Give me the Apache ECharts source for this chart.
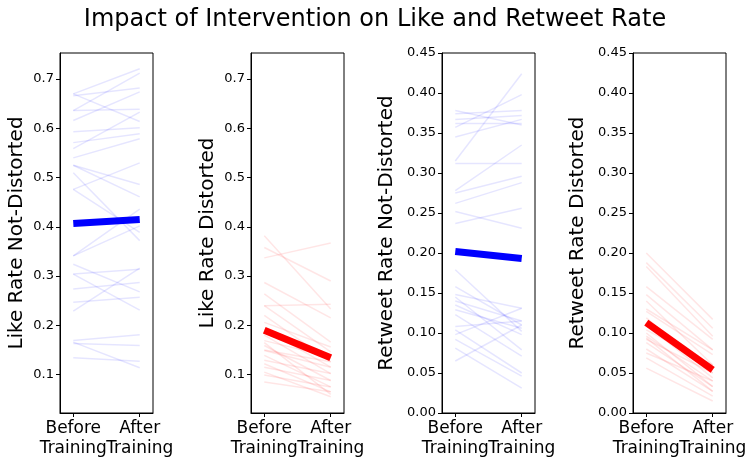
<!DOCTYPE html>
<html>
<head>
<meta charset="utf-8">
<script src="https://cdn.jsdelivr.net/npm/echarts@6/dist/echarts.min.js"></script>
<style>
  html, body { margin: 0; padding: 0; background: #fff; }
  #chart { width: 750px; height: 465px; }
</style>
</head>
<body>
<div id="chart"></div>
<script>
// x tick labels
const phaseLabels = ['Before\nTraining', 'After\nTraining'];

// Like rate, not-distorted (one entry per participant)
const likeNotDistBefore = [0.670, 0.666, 0.670, 0.636, 0.636, 0.616, 0.593, 0.571, 0.559, 0.540,
    0.525, 0.476, 0.525, 0.476, 0.510, 0.341, 0.341, 0.324, 0.304, 0.304,
    0.274, 0.247, 0.229, 0.169, 0.163, 0.166, 0.134];
const likeNotDistAfter = [0.721, 0.682, 0.614, 0.639, 0.712, 0.674, 0.601, 0.589, 0.633, 0.579,
    0.486, 0.530, 0.461, 0.389, 0.372, 0.436, 0.402, 0.268, 0.314, 0.231,
    0.287, 0.257, 0.316, 0.181, 0.159, 0.114, 0.127];
const likeNotDistMean = [0.407, 0.415];

// Like rate, distorted
const likeDistBefore = [0.382, 0.358, 0.337, 0.287, 0.264, 0.240, 0.240, 0.220, 0.206, 0.193,
    0.180, 0.169, 0.159, 0.149, 0.139, 0.129, 0.122, 0.115, 0.105, 0.099,
    0.085, 0.150, 0.165];
const likeDistAfter = [0.233, 0.290, 0.367, 0.215, 0.166, 0.243, 0.146, 0.126, 0.156, 0.115,
    0.102, 0.136, 0.088, 0.115, 0.075, 0.102, 0.065, 0.088, 0.055, 0.075,
    0.065, 0.126, 0.060];
const likeDistMean = [0.190, 0.134];

// Retweet rate, not-distorted
const rtNotDistBefore = [0.378, 0.374, 0.367, 0.362, 0.357, 0.345, 0.315, 0.312, 0.278, 0.275,
    0.262, 0.252, 0.237, 0.179, 0.158, 0.148, 0.145, 0.140, 0.135, 0.129,
    0.123, 0.108, 0.104, 0.098, 0.092, 0.081, 0.065];
const rtNotDistAfter = [0.360, 0.378, 0.372, 0.362, 0.398, 0.367, 0.424, 0.312, 0.335, 0.296,
    0.288, 0.231, 0.256, 0.102, 0.110, 0.131, 0.079, 0.115, 0.098, 0.106,
    0.071, 0.115, 0.050, 0.131, 0.046, 0.031, 0.110];
const rtNotDistMean = [0.202, 0.193];

// Retweet rate, distorted
const rtDistBefore = [0.200, 0.188, 0.183, 0.158, 0.148, 0.140, 0.127, 0.119, 0.110, 0.104,
    0.096, 0.092, 0.088, 0.080, 0.075, 0.069, 0.056, 0.100, 0.130, 0.094];
const rtDistAfter = [0.117, 0.106, 0.096, 0.092, 0.079, 0.060, 0.073, 0.050, 0.044, 0.060,
    0.040, 0.050, 0.033, 0.027, 0.040, 0.021, 0.015, 0.033, 0.079, 0.027];
const rtDistMean = [0.113, 0.054];

const likeTicks = [0.1, 0.2, 0.3, 0.4, 0.5, 0.6, 0.7];
const rtTicks = [0.00, 0.05, 0.10, 0.15, 0.20, 0.25, 0.30, 0.35, 0.40, 0.45];

const FONT = 'DejaVu Sans';

// 四个子图
const panels = [
    { name: 'Like Rate Not-Distorted', before: likeNotDistBefore, after: likeNotDistAfter, mean: likeNotDistMean,
      color: '0,0,255', left: 60, min: 0.022, max: 0.753, ticks: likeTicks, digits: 1, gap: 33 },
    { name: 'Like Rate Distorted', before: likeDistBefore, after: likeDistAfter, mean: likeDistMean,
      color: '255,0,0', left: 251, min: 0.022, max: 0.753, ticks: likeTicks, digits: 1, gap: 33 },
    { name: 'Retweet Rate Not-Distorted', before: rtNotDistBefore, after: rtNotDistAfter, mean: rtNotDistMean,
      color: '0,0,255', left: 442, min: 0, max: 0.45, ticks: rtTicks, digits: 2, gap: 45 },
    { name: 'Retweet Rate Distorted', before: rtDistBefore, after: rtDistAfter, mean: rtDistMean,
      color: '255,0,0', left: 633, min: 0, max: 0.45, ticks: rtTicks, digits: 2, gap: 45 }
];

const grid = [], xAxis = [], yAxis = [], series = [];

// x 轴：每个标签单独一条轴，避免重叠时被隐藏
function makeXAxis(gridIndex, labelAt, main) {
    return {
        type: 'value', gridIndex: gridIndex, min: -0.2, max: 1.2, position: 'bottom',
        splitLine: { show: false },
        axisLine: { show: main, onZero: false, lineStyle: { color: '#000', width: 1 } },
        axisTick: { show: main, length: 4, customValues: [0, 1], lineStyle: { color: '#000' } },
        axisLabel: {
            customValues: [labelAt], color: '#000', fontSize: 17, fontFamily: FONT,
            lineHeight: 20, margin: 6, showMinLabel: true, showMaxLabel: true,
            formatter: function (v) { return phaseLabels[Math.round(v)]; }
        }
    };
}

panels.forEach(function (p, i) {
    grid.push({
        left: p.left, top: 53, width: 93, height: 360,
        show: true, borderColor: '#000', borderWidth: 1, backgroundColor: 'transparent'
    });
    xAxis.push(makeXAxis(i, 0, true));
    xAxis.push(makeXAxis(i, 1, false));
    yAxis.push({
        type: 'value', gridIndex: i, min: p.min, max: p.max,
        name: p.name, nameLocation: 'middle', nameGap: p.gap,
        nameTextStyle: { color: '#000', fontSize: 20, fontFamily: FONT },
        splitLine: { show: false },
        axisLine: { show: true, onZero: false, lineStyle: { color: '#000', width: 1 } },
        axisTick: { show: true, length: 4, customValues: p.ticks, lineStyle: { color: '#000' } },
        axisLabel: {
            customValues: p.ticks, color: '#000', fontSize: 13, fontFamily: FONT, margin: 6,
            hideOverlap: false, showMinLabel: true, showMaxLabel: true,
            formatter: function (v) { return v.toFixed(p.digits); }
        }
    });
    // 每个受试者一条淡线
    p.before.forEach(function (b, k) {
        series.push({
            type: 'line', xAxisIndex: 2 * i, yAxisIndex: i, symbol: 'none', silent: true,
            lineStyle: { color: 'rgba(' + p.color + ',0.1)', width: 1.5 },
            data: [[0, b], [1, p.after[k]]]
        });
    });
    // 平均值粗线
    series.push({
        type: 'line', xAxisIndex: 2 * i, yAxisIndex: i, symbol: 'none', silent: true,
        lineStyle: { color: 'rgb(' + p.color + ')', width: 7, cap: 'butt' },
        data: [[0, p.mean[0]], [1, p.mean[1]]], z: 5
    });
});

const chart = echarts.init(document.getElementById('chart'));
chart.setOption({
    animation: false,
    backgroundColor: '#fff',
    title: {
        text: 'Impact of Intervention on Like and Retweet Rate',
        left: 'center', top: 3,
        textStyle: { color: '#000', fontSize: 24, fontWeight: 'normal', fontFamily: FONT }
    },
    grid: grid,
    xAxis: xAxis,
    yAxis: yAxis,
    series: series
});
</script>
</body>
</html>
